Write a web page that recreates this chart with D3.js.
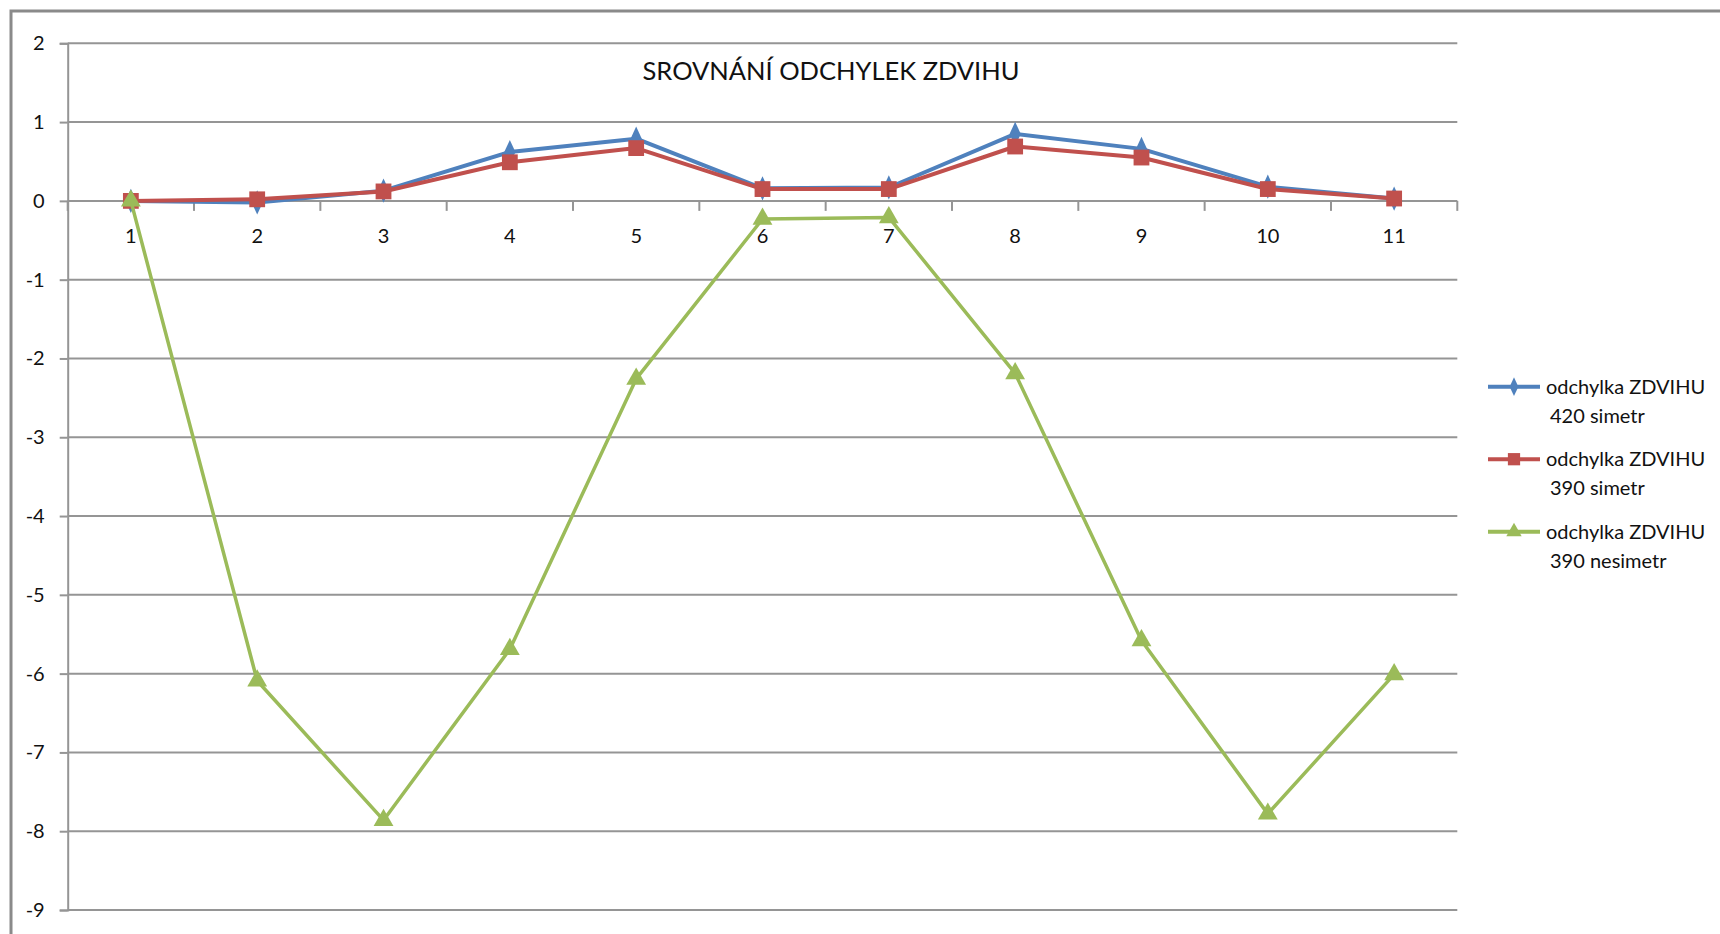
<!DOCTYPE html>
<html>
<head>
<meta charset="utf-8">
<script src="https://cdn.jsdelivr.net/npm/d3@7"></script>
<style>
  html, body { margin: 0; padding: 0; background: #fff; }
  svg { display: block; font-family: Lato, "Open Sans", sans-serif; }
</style>
</head>
<body>
<svg id="chart" width="1720" height="934"></svg>
<script>
// Positions along the measured stroke (categories 1..11)
const categories = ["1", "2", "3", "4", "5", "6", "7", "8", "9", "10", "11"];

// Deviation of the lift for each configuration
const sym420 = [0.00, -0.02, 0.13, 0.62, 0.79, 0.16, 0.17, 0.85, 0.66, 0.18, 0.03];
const sym390 = [0.00, 0.02, 0.12, 0.49, 0.67, 0.15, 0.15, 0.69, 0.55, 0.15, 0.03];
const asym390 = [0.00, -6.09, -7.86, -5.69, -2.26, -0.23, -0.21, -2.19, -5.58, -7.78, -6.01];

const yTicks = [2, 1, 0, -1, -2, -3, -4, -5, -6, -7, -8, -9];
const seriesNames = [
  ["odchylka ZDVIHU", "420 simetr"],
  ["odchylka ZDVIHU", "390 simetr"],
  ["odchylka ZDVIHU", "390 nesimetr"]
];
const title = "SROVNÁNÍ ODCHYLEK ZDVIHU";

const series = [
  { name: seriesNames[0], values: sym420, color: "#4F81BD", symbol: d3.symbolDiamond, size: 170, sx: 0.8, width: 4 },
  { name: seriesNames[1], values: sym390, color: "#C0504D", symbol: d3.symbolSquare, size: 250, sx: 1, width: 4 },
  { name: seriesNames[2], values: asym390, color: "#9BBB59", symbol: d3.symbolTriangle, size: 170, sx: 1, width: 3.5 }
];

const svg = d3.select("#chart");
const plot = { left: 67.7, right: 1457.3, top: 43.3, bottom: 910 };
const gridColor = "#959595";
const textColor = "#111";

// Outer chart frame (runs off the right and bottom edges)
svg.append("rect")
  .attr("x", 11).attr("y", 11)
  .attr("width", 1760).attr("height", 960)
  .attr("fill", "none")
  .attr("stroke", "#8a8a8a")
  .attr("stroke-width", 3);

const x = d3.scaleBand().domain(categories).range([plot.left, plot.right]).padding(0);
const y = d3.scaleLinear().domain([-9, 2]).range([plot.bottom, plot.top]);
const cx = c => x(c) + x.bandwidth() / 2;

// Value axis with outward ticks and labels
const yAxis = d3.axisLeft(y)
  .tickValues(yTicks)
  .tickSize(8)
  .tickPadding(15)
  .tickFormat(d3.format("d"));
const yg = svg.append("g").attr("transform", `translate(${plot.left},0)`).call(yAxis);
yg.select(".domain").attr("stroke", gridColor).attr("stroke-width", 2);
yg.selectAll(".tick line").attr("stroke", gridColor).attr("stroke-width", 2);
yg.selectAll(".tick text")
  .attr("fill", textColor)
  .style("font-size", "20px")
  .style("font-family", "Lato, sans-serif")
  .text(d => d < 0 ? "-" + Math.abs(d) : d);

// Horizontal gridlines
svg.append("g").selectAll("line")
  .data(yTicks)
  .join("line")
  .attr("x1", plot.left).attr("x2", plot.right)
  .attr("y1", d => y(d)).attr("y2", d => y(d))
  .attr("stroke", gridColor)
  .attr("stroke-width", 2);

// Category axis sits on the zero line, tick marks between categories
const boundaries = categories.map(c => x(c)).concat([plot.right]);
svg.append("g").selectAll("line")
  .data(boundaries)
  .join("line")
  .attr("x1", d => d).attr("x2", d => d)
  .attr("y1", y(0)).attr("y2", y(0) + 10)
  .attr("stroke", gridColor)
  .attr("stroke-width", 2);

const xAxis = d3.axisBottom(x).tickSize(0).tickPadding(28);
const xg = svg.append("g").attr("transform", `translate(0,${y(0)})`).call(xAxis);
xg.select(".domain").remove();
xg.selectAll(".tick text")
  .attr("fill", textColor)
  .style("font-size", "20px")
  .style("font-family", "Lato, sans-serif");

// Title
svg.append("text")
  .attr("x", 831).attr("y", 80)
  .attr("text-anchor", "middle")
  .attr("fill", textColor)
  .style("font-size", "25.5px")
  .text(title);

// Series lines and markers
const line = d3.line().x((d, i) => cx(categories[i])).y(d => y(d));
series.forEach(s => {
  const g = svg.append("g");
  g.append("path")
    .datum(s.values)
    .attr("d", line)
    .attr("fill", "none")
    .attr("stroke", s.color)
    .attr("stroke-width", s.width)
    .attr("stroke-linejoin", "round");
  g.selectAll("path.m")
    .data(s.values)
    .join("path")
    .attr("class", "m")
    .attr("d", d3.symbol().type(s.symbol).size(s.size))
    .attr("transform", (d, i) => `translate(${cx(categories[i])},${y(d)}) scale(${s.sx},1)`)
    .attr("fill", s.color);
});

// Legend
const legend = svg.append("g");
series.forEach((s, i) => {
  const ly = 386.7 + i * 72.5;
  const item = legend.append("g");
  item.append("line")
    .attr("x1", 1488).attr("x2", 1540)
    .attr("y1", ly).attr("y2", ly)
    .attr("stroke", s.color).attr("stroke-width", 4);
  item.append("path")
    .attr("d", d3.symbol().type(s.symbol).size(s.size * 0.6))
    .attr("transform", `translate(1514,${ly}) scale(${s.sx},1)`)
    .attr("fill", s.color);
  item.append("text")
    .attr("x", 1546).attr("y", ly + 7)
    .attr("fill", textColor)
    .style("font-size", "20px")
    .text(s.name[0]);
  item.append("text")
    .attr("x", 1550).attr("y", ly + 36)
    .attr("fill", textColor)
    .style("font-size", "20px")
    .text(s.name[1]);
});
</script>
</body>
</html>
